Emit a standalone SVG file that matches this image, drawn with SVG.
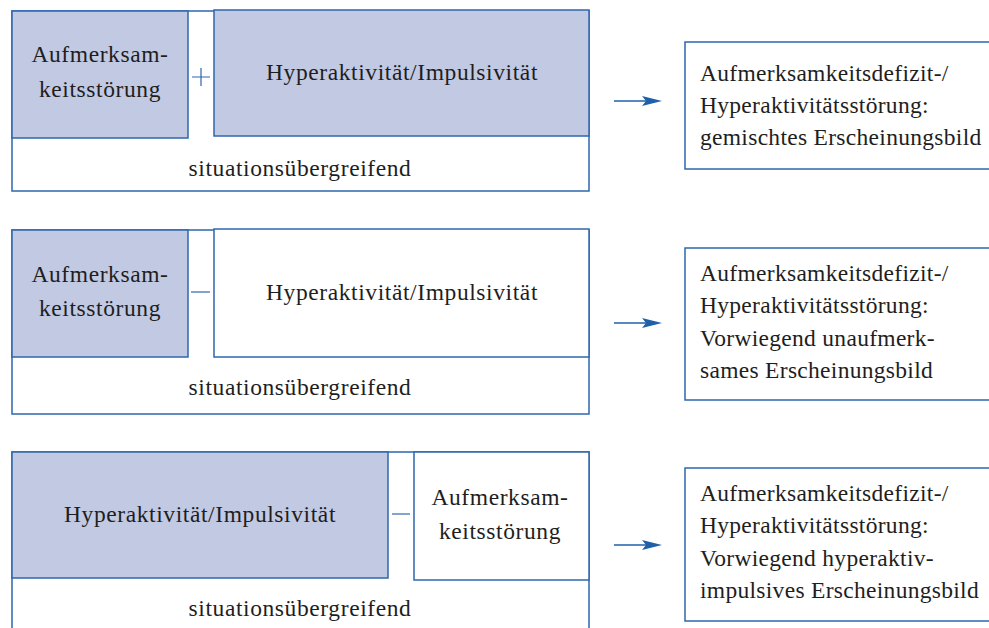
<svg xmlns="http://www.w3.org/2000/svg" width="989" height="628" viewBox="0 0 989 628">
<defs>
<style>
.box{fill:#fff;stroke:#2e67ad;stroke-width:1.5}
.fill{fill:#c2c9e3;stroke:#2e67ad;stroke-width:1.5}
.t{font-family:"Liberation Serif","Times New Roman",serif;font-size:23.5px;fill:#1e1e1e;letter-spacing:0.6px}
.r{letter-spacing:0.3px}
.c{text-anchor:middle}
.sign{stroke:#2e67ad;stroke-width:1.2;fill:none}
.arr{stroke:#2060a8;stroke-width:1.4;fill:none}
.head{fill:#2060a8}
</style>
</defs>
<rect width="989" height="628" fill="#fff"/>
<g id="panel1">
<rect class="box" x="12" y="11" width="577" height="180"/>
<rect class="fill" x="12" y="11" width="176" height="127"/>
<rect class="fill" x="214" y="10" width="375" height="126"/>
<text class="t c" x="100" y="62">Aufmerksam-</text>
<text class="t c" x="100" y="97">keitsstörung</text>
<text class="t c" x="402" y="80">Hyperaktivität/Impulsivität</text>
<text class="t c" x="300" y="176">situationsübergreifend</text>
<path class="sign" d="M192 77H210M201 68V86"/>
</g>
<g id="panel2">
<rect class="box" x="12" y="230" width="577" height="184"/>
<rect class="fill" x="12" y="230" width="176" height="127"/>
<rect class="box" x="214" y="229" width="375" height="128"/>
<text class="t c" x="100" y="282">Aufmerksam-</text>
<text class="t c" x="100" y="316">keitsstörung</text>
<text class="t c" x="402" y="300">Hyperaktivität/Impulsivität</text>
<text class="t c" x="300" y="395">situationsübergreifend</text>
<path class="sign" d="M191 292H210"/>
</g>
<g id="panel3">
<rect class="box" x="12" y="452" width="577" height="190"/>
<rect class="fill" x="12" y="452" width="376" height="126"/>
<rect class="box" x="414" y="452" width="175" height="128"/>
<text class="t c" x="200" y="522">Hyperaktivität/Impulsivität</text>
<text class="t c" x="500" y="505">Aufmerksam-</text>
<text class="t c" x="500" y="539">keitsstörung</text>
<text class="t c" x="300" y="616">situationsübergreifend</text>
<path class="sign" d="M392 514H410"/>
</g>
<g id="result1">
<rect class="box" x="685" y="42" width="320" height="127"/>
<text class="t r" x="700" y="81">Aufmerksamkeitsdefizit-/</text>
<text class="t r" x="700" y="113">Hyperaktivitätsstörung:</text>
<text class="t r" x="700" y="145">gemischtes Erscheinungsbild</text>
</g>
<g id="result2">
<rect class="box" x="685" y="248" width="320" height="152"/>
<text class="t r" x="700" y="281">Aufmerksamkeitsdefizit-/</text>
<text class="t r" x="700" y="313">Hyperaktivitätsstörung:</text>
<text class="t r" x="700" y="346">Vorwiegend unaufmerk-</text>
<text class="t r" x="700" y="378">sames Erscheinungsbild</text>
</g>
<g id="result3">
<rect class="box" x="685" y="468" width="320" height="153"/>
<text class="t r" x="700" y="501">Aufmerksamkeitsdefizit-/</text>
<text class="t r" x="700" y="533">Hyperaktivitätsstörung:</text>
<text class="t r" x="700" y="566">Vorwiegend hyperaktiv-</text>
<text class="t r" x="700" y="598">impulsives Erscheinungsbild</text>
</g>
<g id="connectors">
<path class="arr" d="M614 101H652"/>
<path class="head" d="M662 101L642 96L646 101L642 106Z"/>
<path class="arr" d="M614 323H652"/>
<path class="head" d="M662 323L642 318L646 323L642 328Z"/>
<path class="arr" d="M614 545H652"/>
<path class="head" d="M662 545L642 540L646 545L642 550Z"/>
</g>
</svg>
